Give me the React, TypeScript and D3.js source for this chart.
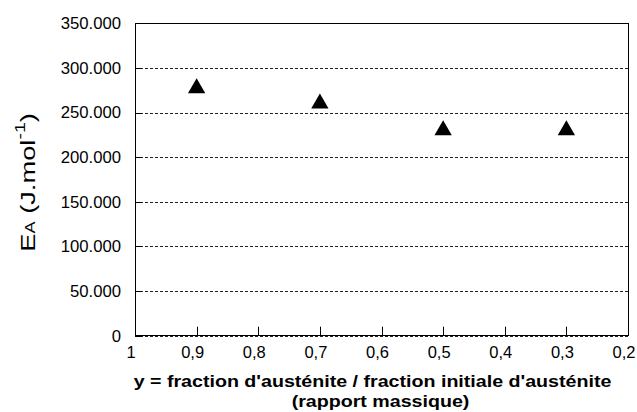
import React from "react";
import * as d3 from "d3";

const xValues = [0.9, 0.7, 0.5, 0.3];
const eaValues = [280000, 263000, 233000, 233000];
const xTicks = [1, 0.9, 0.8, 0.7, 0.6, 0.5, 0.4, 0.3, 0.2];
const yTicks = [0, 50000, 100000, 150000, 200000, 250000, 300000, 350000];

const W = 637, H = 412;
const M = { left: 135, right: 9, top: 23.3, bottom: 76.3 };

export default function App() {
  const x = d3.scaleLinear().domain([1, 0.2]).range([M.left, W - M.right]);
  const y = d3.scaleLinear().domain([0, 350000]).range([H - M.bottom, M.top]);
  const fmtY = (v: number) => d3.format(",")(v).replace(/,/g, ".");
  const fmtX = (v: number) => (v === 1 ? "1" : String(v).replace(".", ","));
  const tri = d3.symbol().type(d3.symbolTriangle).size(130);
  const font = "Arial, 'Liberation Sans', sans-serif";
  return (
    <svg width={W} height={H} style={{ position: "absolute", left: 0, top: 0 }} fontFamily={font}>
      <rect width={W} height={H} fill="white" />
      {yTicks.slice(0, -1).map((t) => (
        <line key={"g" + t} x1={M.left} x2={W - M.right} y1={Math.round(y(t)) + 0.5} y2={Math.round(y(t)) + 0.5} stroke="#222" strokeWidth={1} strokeDasharray="3,2" />
      ))}
      {yTicks.map((t) => (
        <g key={"y" + t}>
          <line x1={M.left} x2={M.left + 7} y1={Math.round(y(t)) + 0.5} y2={Math.round(y(t)) + 0.5} stroke="black" />
          <text x={121} y={y(t)} dy="0.35em" textAnchor="end" fontSize={16.7}>{fmtY(t)}</text>
        </g>
      ))}
      {xTicks.map((t) => (
        <g key={"x" + t}>
          <line x1={Math.round(x(t)) + 0.5} x2={Math.round(x(t)) + 0.5} y1={H - M.bottom} y2={H - M.bottom - 9} stroke="black" />
          <text x={x(t) - 4} y={352} dy="0.35em" textAnchor="middle" fontSize={16.5}>{fmtX(t)}</text>
        </g>
      ))}
      <rect x={Math.round(M.left) + 0.5} y={Math.round(M.top) + 0.5} width={Math.round(W - M.left - M.right)} height={Math.round(H - M.top - M.bottom)} fill="none" stroke="black" strokeWidth={1} />
      {xValues.map((v, i) => (
        <path key={"p" + i} d={tri() as string} transform={`translate(${x(v)},${y(eaValues[i]) + 2.5})`} fill="black" />
      ))}
      <text transform="translate(372.5,386.5) scale(1.19,1)" textAnchor="middle" fontSize={16.5} fontWeight="bold">y = fraction d'austénite / fraction initiale d'austénite</text>
      <text transform="translate(380.5,406.5) scale(1.19,1)" textAnchor="middle" fontSize={16.5} fontWeight="bold">(rapport massique)</text>
      <text transform="translate(34.5,182.5) rotate(-90) scale(1.3,1)" textAnchor="middle" fontSize={21}>
        E<tspan fontSize={14}>A</tspan> (J.mol<tspan fontSize={15} dy="-10">-1</tspan><tspan dy="10">)</tspan>
      </text>
    </svg>
  );
}
